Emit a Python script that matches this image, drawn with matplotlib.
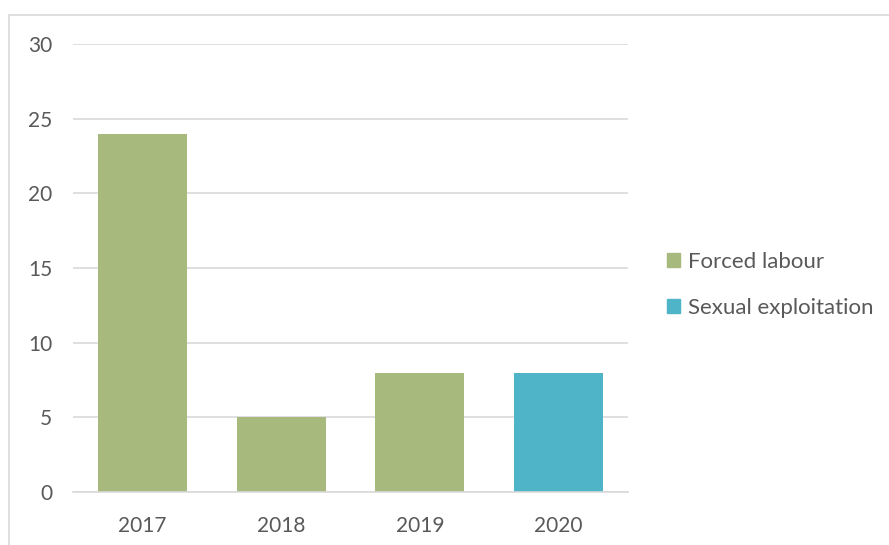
import numpy as np
import matplotlib.pyplot as plt
from matplotlib.patches import Rectangle, Patch

years = ['2017', '2018', '2019', '2020']
forced_labour = [24, 5, 8, 0]
sexual_exploitation = [0, 0, 0, 8]
y_ticks = [0, 5, 10, 15, 20, 25, 30]

green = '#A7B97D'
blue = '#4FB4C8'
txt = '#595959'
grid = '#D9D9D9'

plt.rcParams['font.family'] = ['Lato', 'DejaVu Sans']

fig = plt.figure(figsize=(8.89, 5.45), dpi=100)
# chart border
fig.patches.append(Rectangle((9/889, -0.1), 1.1, 1 - 15/545 + 0.1, transform=fig.transFigure,
                             fill=False, edgecolor=grid, lw=1.2))

ax = fig.add_axes([73/889, 1 - 492/545, 555/889, 448/545])
x = np.arange(len(years))
ax.bar(x, forced_labour, width=0.64, color=green, zorder=2)
ax.bar(x, sexual_exploitation, width=0.64, color=blue, zorder=2)

ax.set_xlim(-0.5, 3.5)
ax.set_ylim(0, 30)
ax.set_yticks(y_ticks)
ax.set_xticks(x)
ax.set_xticklabels(years)
ax.yaxis.grid(True, color=grid, lw=1.2, zorder=0)
for s in ['top', 'right', 'left']:
    ax.spines[s].set_visible(False)
ax.spines['bottom'].set_color(grid)
ax.spines['bottom'].set_linewidth(1.2)
ax.tick_params(length=0, labelsize=15, labelcolor=txt)
ax.tick_params(axis='y', pad=15)
ax.tick_params(axis='x', pad=17)

handles = [Patch(color=green, label='Forced labour'), Patch(color=blue, label='Sexual exploitation')]
fig.legend(handles=handles, loc='center left', bbox_to_anchor=(647/889, 1 - 285/545),
           frameon=False, fontsize=16, labelcolor=txt, handlelength=0.6, handleheight=0.6,
           handletextpad=0.35, labelspacing=1.15)

fig.savefig('out.png', dpi=100)
